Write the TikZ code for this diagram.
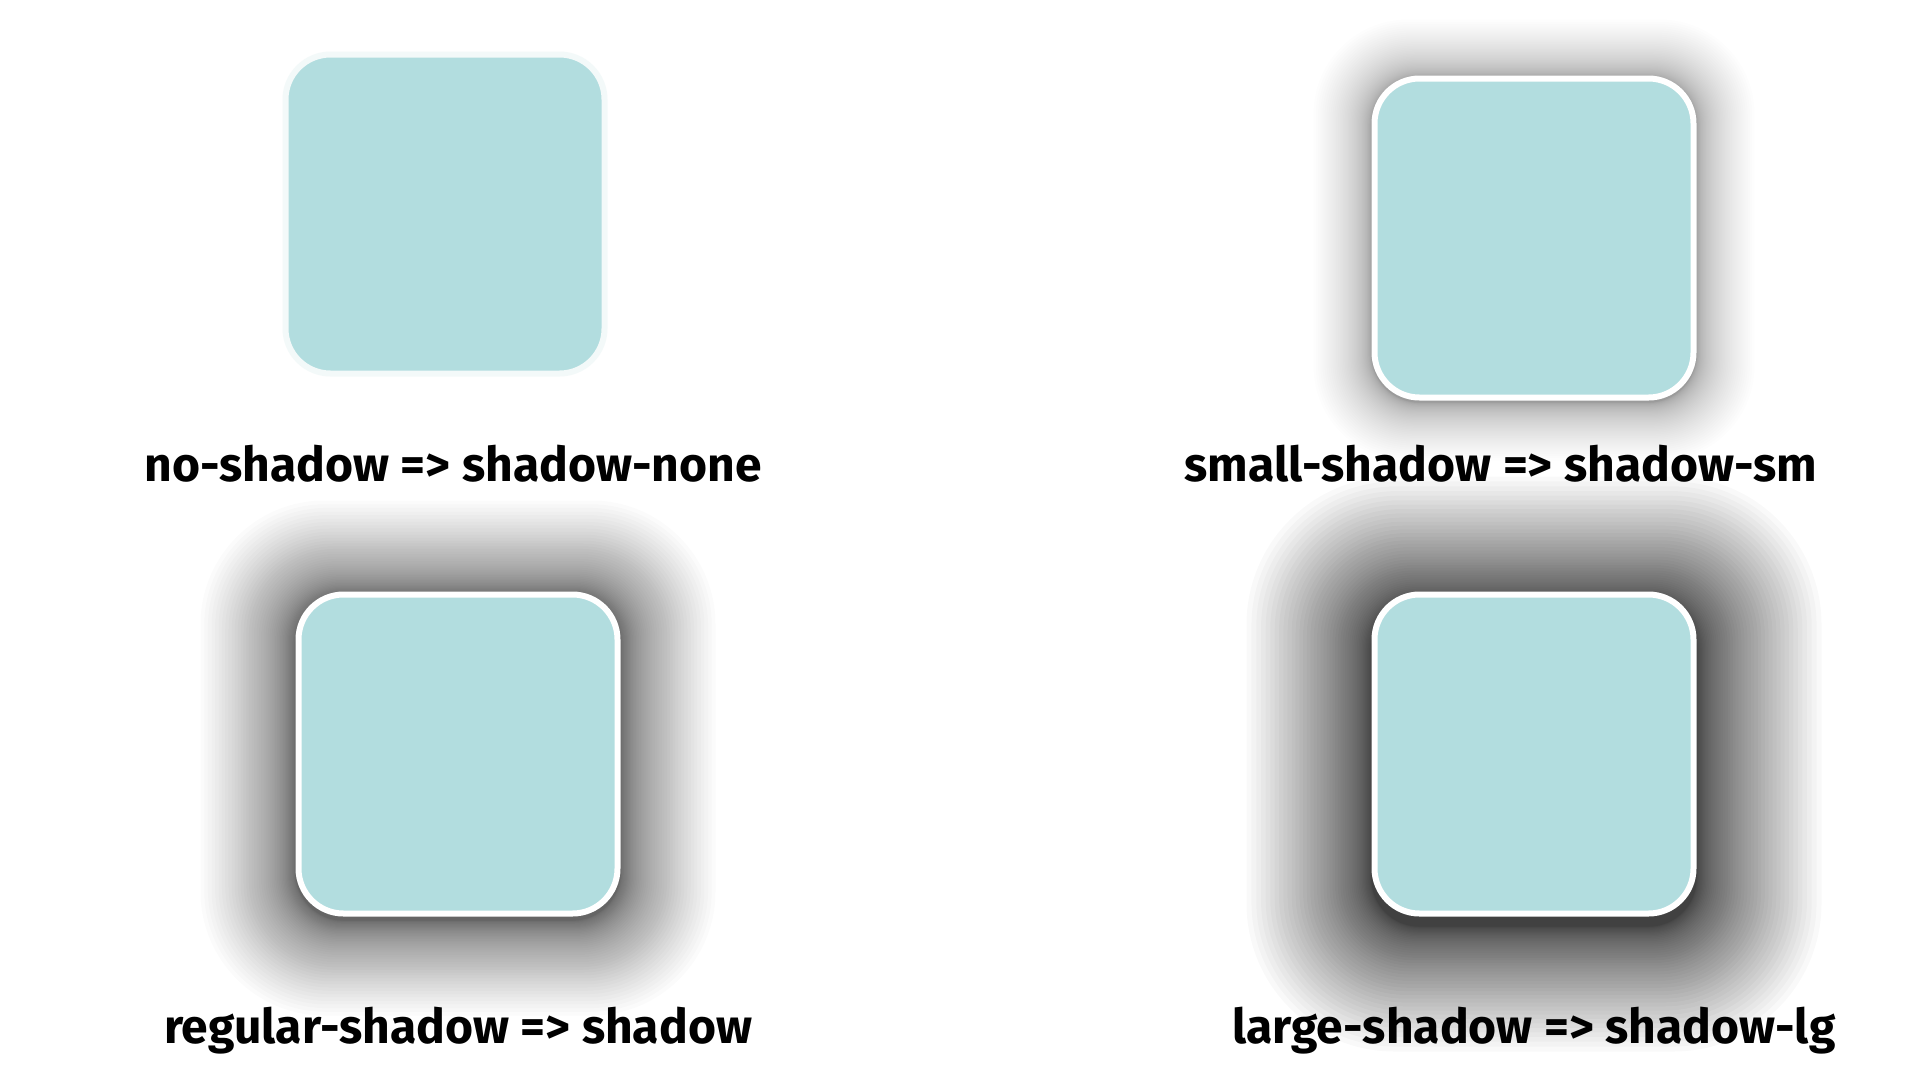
\documentclass[tikz,border=0pt]{standalone}
\usepackage{fontspec}
\setmainfont{Fira Sans}
\definecolor{tealfill}{HTML}{B2DDDF}
\definecolor{faintedge}{HTML}{F3F9F9}
\newcommand\boxshadow[5]{% cx, cy, extent, alpha, dy
  \foreach \i in {1,...,50}{%
    \pgfmathsetmacro\ee{#3*(\i/50)^2}%
    \pgfmathsetmacro\rr{48+0.8*\ee}%
    \fill[black, opacity=#4, rounded corners=\rr pt]
      (#1-162.5-\ee, #2-162.5-\ee+#5) rectangle (#1+162.5+\ee, #2+162.5+\ee+#5);
  }%
}
\begin{document}
\begin{tikzpicture}[x=1pt, y=-1pt,
  card/.style={rectangle, rounded corners=45pt, fill=tealfill, draw=white,
    line width=6pt, minimum width=319pt, minimum height=319pt, inner sep=0pt, outer sep=0pt},
  caption/.style={anchor=base, inner sep=0pt, font=\fontsize{48}{57}\selectfont\bfseries, text=black}]
\fill[white] (0,0) rectangle (1920,1080);
\useasboundingbox (0,0) rectangle (1920,1080);
% shadows
\boxshadow{1534}{238}{58}{0.0085}{2}
\boxshadow{458}{754}{95}{0.0160}{4}
\boxshadow{1534}{754}{125}{0.0220}{10}
% cards
\node[card, draw=faintedge] (none) at (445,214) {};
\node[card] (sm) at (1534,238) {};
\node[card] (reg) at (458,754) {};
\node[card] (lg) at (1534,754) {};
% captions
\node[caption] (tnone) at (453,481) {no-shadow => shadow-none};
\node[caption] (tsm) at (1501,481) {small-shadow => shadow-sm};
\node[caption] (treg) at (458,1043) {regular-shadow => shadow};
\node[caption] (tlg) at (1534,1043) {large-shadow => shadow-lg};
\end{tikzpicture}
\end{document}
